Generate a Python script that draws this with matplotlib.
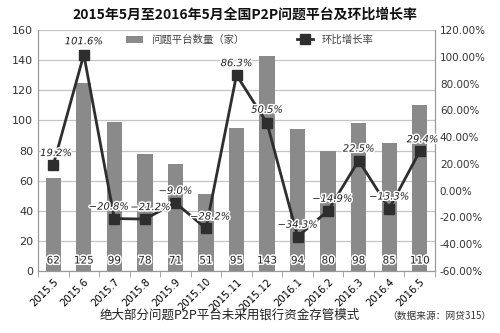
import matplotlib
matplotlib.use("Agg")
import matplotlib.pyplot as plt
import matplotlib.patheffects as pe
from matplotlib.ticker import FuncFormatter, MultipleLocator
import numpy as np

plt.rcParams['font.family'] = ['Noto Sans CJK SC', 'DejaVu Sans']

months = ["2015.5", "2015.6", "2015.7", "2015.8", "2015.9", "2015.10", "2015.11",
          "2015.12", "2016.1", "2016.2", "2016.3", "2016.4", "2016.5"]
platforms = [62, 125, 99, 78, 71, 51, 95, 143, 94, 80, 98, 85, 110]
growth = [19.2, 101.6, -20.8, -21.2, -9.0, -28.2, 86.3, 50.5, -34.3, -14.9, 22.5, -13.3, 29.4]

# label offsets (points) for the growth annotations
label_offsets = [(2, 5), (0, 6), (-4, 5), (4, 5), (0, 5), (3, 5), (0, 5),
                 (0, 6), (0, 5), (3, 5), (0, 5), (0, 5), (2, 5)]

fig = plt.figure(figsize=(5.0, 3.33), dpi=100)
ax = fig.add_axes([0.076, 0.186, 0.794, 0.724])
ax2 = ax.twinx()

x = np.arange(len(months))
bar_color = "#8a8a8a"
dark = "#2e2e2e"

ax.set_axisbelow(True)
ax.yaxis.grid(True, color="#c4c4c4", linewidth=0.9)
bars = ax.bar(x, platforms, width=0.5, color=bar_color, zorder=2,
              label="问题平台数量（家）")
ax.set_ylim(0, 160)
ax.set_xlim(-0.5, len(months) - 0.5)
ax.yaxis.set_major_locator(MultipleLocator(20))

halo = [pe.withStroke(linewidth=2.2, foreground="white")]
for xi, v in zip(x, platforms):
    ax.text(xi, 7, str(v), ha="center", va="center", fontsize=7.5,
            color="#222222", family="DejaVu Sans", zorder=5, path_effects=halo)

line, = ax2.plot(x, growth, color=dark, linewidth=2.0, marker="s",
                 markersize=7, markerfacecolor=dark, markeredgecolor=dark,
                 label="环比增长率", zorder=4)
ax2.set_ylim(-60, 120)
ax2.yaxis.set_major_locator(MultipleLocator(20))
ax2.yaxis.set_major_formatter(FuncFormatter(lambda v, p: f"{v:.2f}%"))

for xi, g, off in zip(x, growth, label_offsets):
    ax2.annotate(f"{g:.1f}%".replace("-", "−"), (xi, g), xytext=off,
                 textcoords="offset points", ha="center", va="bottom",
                 fontsize=7.2, style="italic", color="#222222",
                 family="DejaVu Sans", path_effects=halo, zorder=6)

ax.set_xticks(x)
ax.set_xticklabels(months, rotation=45, ha="right", rotation_mode="anchor",
                   fontsize=7.2, family="DejaVu Sans")
ax.tick_params(axis="x", length=0, pad=4)
ax.set_xticks(np.arange(-0.5, len(months), 1.0), minor=True)
ax.tick_params(axis="x", which="minor", length=4, color="#999999")
ax.tick_params(axis="y", length=0, labelsize=8, colors="#333333")
ax2.tick_params(axis="y", length=0, labelsize=7.5, colors="#333333")
for t in ax.get_yticklabels() + ax2.get_yticklabels():
    t.set_family("DejaVu Sans")

for a in (ax, ax2):
    a.spines["top"].set_visible(False)
    a.spines["left"].set_color("#999999")
    a.spines["right"].set_color("#999999")
    a.spines["bottom"].set_color("#999999")

fig.legend(handles=[bars, line], labels=["问题平台数量（家）", "环比增长率"],
           loc="center", bbox_to_anchor=(0.5, 0.88), ncol=2, frameon=False,
           fontsize=7.5, columnspacing=5.0, handlelength=1.6, labelcolor="#444444")

fig.text(0.49, 0.955, "2015年5月至2016年5月全国P2P问题平台及环比增长率",
         ha="center", va="center", fontsize=10, fontweight="bold", color="#111111")
fig.text(0.46, 0.052, "绝大部分问题P2P平台未采用银行资金存管模式",
         ha="center", va="center", fontsize=9, color="#222222")
fig.text(0.878, 0.05, "（数据来源：网贷315）", ha="center", va="center",
         fontsize=7, color="#333333")

fig.savefig("out.png", dpi=100, facecolor="white")
